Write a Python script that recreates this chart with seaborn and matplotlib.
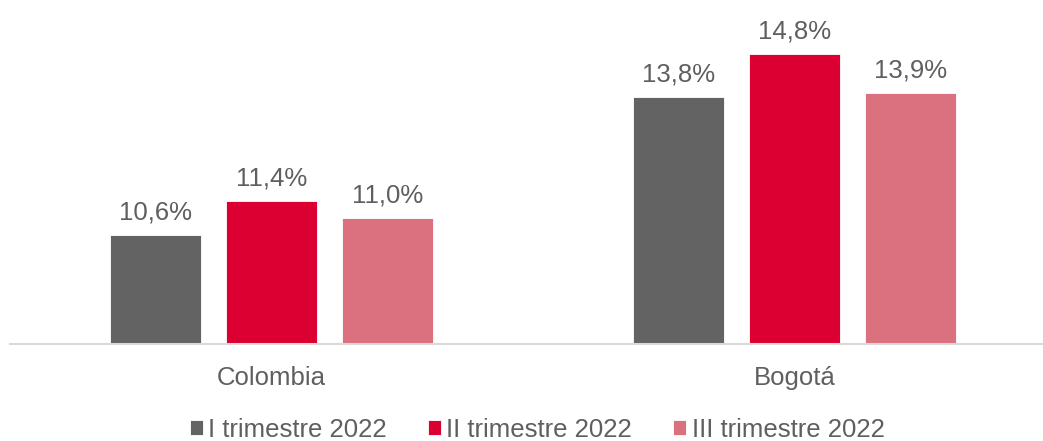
import pandas as pd
import matplotlib.pyplot as plt
import seaborn as sns

# datos
regiones = ["Colombia", "Bogotá"]
trimestres = ["I trimestre 2022", "II trimestre 2022", "III trimestre 2022"]
valores_i = [10.6, 13.8]
valores_ii = [11.4, 14.8]
valores_iii = [11.0, 13.9]

colores = ["#636363", "#DC0032", "#DB717F"]
texto = "#5f5f5f"

df = pd.DataFrame({
    "region": regiones * 3,
    "trimestre": [trimestres[0]] * 2 + [trimestres[1]] * 2 + [trimestres[2]] * 2,
    "valor": valores_i + valores_ii + valores_iii,
})

sns.set_style("white")
plt.rcParams["font.family"] = ["Liberation Sans", "DejaVu Sans"]

fig = plt.figure(figsize=(10.43, 4.41), dpi=100)
ax = fig.add_axes([10 / 1043, 97.5 / 441, 1033 / 1043, 341 / 441])

sns.barplot(
    data=df,
    x="region",
    y="valor",
    hue="trimestre",
    palette=colores,
    width=0.665,
    gap=0.215,
    saturation=1,
    edgecolor="white",
    linewidth=0.6,
    ax=ax,
    legend=True,
)

for cont in ax.containers:
    etiquetas = [f"{b.get_height():.1f}%".replace(".", ",") for b in cont]
    ax.bar_label(cont, labels=etiquetas, padding=7.5, fontsize=18.5, color=texto)

ax.set_xlim(-0.5, 1.475)
ax.set_ylim(8.08, 16)
ax.set_xlabel("")
ax.set_ylabel("")
ax.set_yticks([])
ax.tick_params(axis="x", length=0, pad=16, labelsize=18.5, labelcolor=texto)

for s in ["top", "right", "left"]:
    ax.spines[s].set_visible(False)
ax.spines["bottom"].set_color("#D9D9D9")
ax.spines["bottom"].set_linewidth(1.5)

handles, labels = ax.get_legend_handles_labels()
ax.get_legend().remove()
fig.legend(
    handles, labels,
    loc="center",
    bbox_to_anchor=(537 / 1043, 1 - 430 / 441),
    ncol=3,
    frameon=False,
    fontsize=18.5,
    labelcolor=texto,
    handlelength=0.52,
    handleheight=0.52,
    handletextpad=0.2,
    columnspacing=1.6,
    borderaxespad=0,
)

plt.savefig("out.png", dpi=100)
